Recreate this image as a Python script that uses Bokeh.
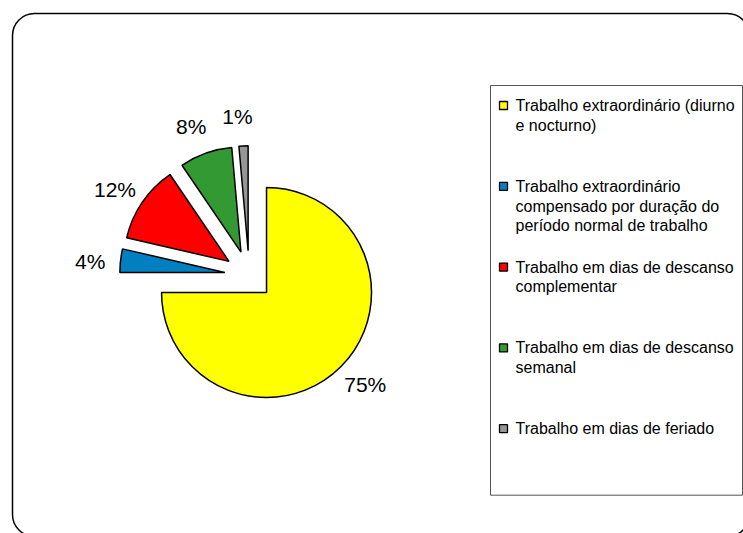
import math
from bokeh.plotting import figure
from bokeh.models import Range1d, ColumnDataSource
from bokeh.core.properties import value
from bokeh.embed import file_html
from bokeh.resources import INLINE

# ---------------- data ----------------
categories = [
    "Trabalho extraordinário (diurno\ne nocturno)",
    "Trabalho extraordinário\ncompensado por duração do\nperíodo normal de trabalho",
    "Trabalho em dias de descanso\ncomplementar",
    "Trabalho em dias de descanso\nsemanal",
    "Trabalho em dias de feriado",
]
shares = [75.0, 3.6, 11.9, 8.1, 1.4]
pct_labels = ["75%", "4%", "12%", "8%", "1%"]
colors = ["#FFFF00", "#0080C0", "#FF0000", "#339933", "#969696"]

# ---------------- layout (screen pixels, y measured from top) ----------------
W, H = 743, 533
CX, CY = 248.7, 274.7      # true pie centre
RADIUS = 105
EXPLODE = 24.5
LABEL_DIST = 135
LABEL_ROT = -2.0           # degrees, labels sit slightly anticlockwise of bisector
FONT = "Liberation Sans"

p = figure(width=W, height=H,
           x_range=Range1d(0, W), y_range=Range1d(-H, 0),
           output_backend="svg", toolbar_location=None, min_border=0,
           x_axis_location=None, y_axis_location=None)
p.grid.visible = False
p.outline_line_color = None
p.background_fill_color = "white"
p.border_fill_color = "white"

# outer rounded chart border (runs off the page at right / bottom)
p.quad(left=[12], right=[749], top=[-13], bottom=[-536], border_radius=22,
       fill_color=None, line_color="black", line_width=1.5)

# ---------------- exploded pie ----------------
total = sum(shares)
ax, ay, sa, ea, lx, ly = [], [], [], [], [], []
cum = 0.0
for v in shares:
    t0 = cum / total * 360.0
    t1 = (cum + v) / total * 360.0
    midd = (t0 + t1) / 2.0
    mid = math.radians(midd)
    dx, dy = math.sin(mid), math.cos(mid)
    x0 = CX + EXPLODE * dx
    y0 = -CY + EXPLODE * dy
    ax.append(x0)
    ay.append(y0)
    sa.append(math.radians(90.0 - t0))
    ea.append(math.radians(90.0 - t1))
    lm = math.radians(midd + LABEL_ROT)
    lx.append(x0 + LABEL_DIST * math.sin(lm))
    ly.append(y0 + LABEL_DIST * math.cos(lm))
    cum += v

pie_src = ColumnDataSource(dict(x=ax, y=ay, start=sa, end=ea, color=colors,
                                lx=lx, ly=ly, label=pct_labels))
p.wedge(x="x", y="y", radius=RADIUS, start_angle="start", end_angle="end",
        direction="clock", fill_color="color", line_color="black",
        line_width=1.5, source=pie_src)
p.text(x="lx", y="ly", text="label", source=pie_src,
       text_font=value(FONT), text_font_size="21px", text_color="black",
       text_align="center", text_baseline="middle")

# ---------------- legend ----------------
LEG_LEFT, LEG_RIGHT, LEG_TOP, LEG_BOTTOM = 490, 742, 85, 494.7
LEG_Y0, LEG_STEP, LINE_STEP = 105, 80.8, 19.7
MARK_X, TEXT_X = 503, 515

p.quad(left=[LEG_LEFT], right=[LEG_RIGHT], top=[-LEG_TOP], bottom=[-LEG_BOTTOM],
       fill_color="white", line_color="#555555", line_width=1)

mx, my = [], []
tx, ty, tt = [], [], []
for i, cat in enumerate(categories):
    yc = LEG_Y0 + i * LEG_STEP
    mx.append(MARK_X)
    my.append(-yc)
    for j, line in enumerate(cat.split("\n")):
        tx.append(TEXT_X)
        ty.append(-(yc + j * LINE_STEP))
        tt.append(line)

p.scatter(x=mx, y=my, marker="square", size=8, fill_color=colors,
          line_color="black", line_width=1.3)
p.text(x=tx, y=ty, text=tt, text_font=value(FONT), text_font_size="16px",
       text_color="black", text_align="left", text_baseline="middle")

open("out.html", "w").write(file_html(p, INLINE))
